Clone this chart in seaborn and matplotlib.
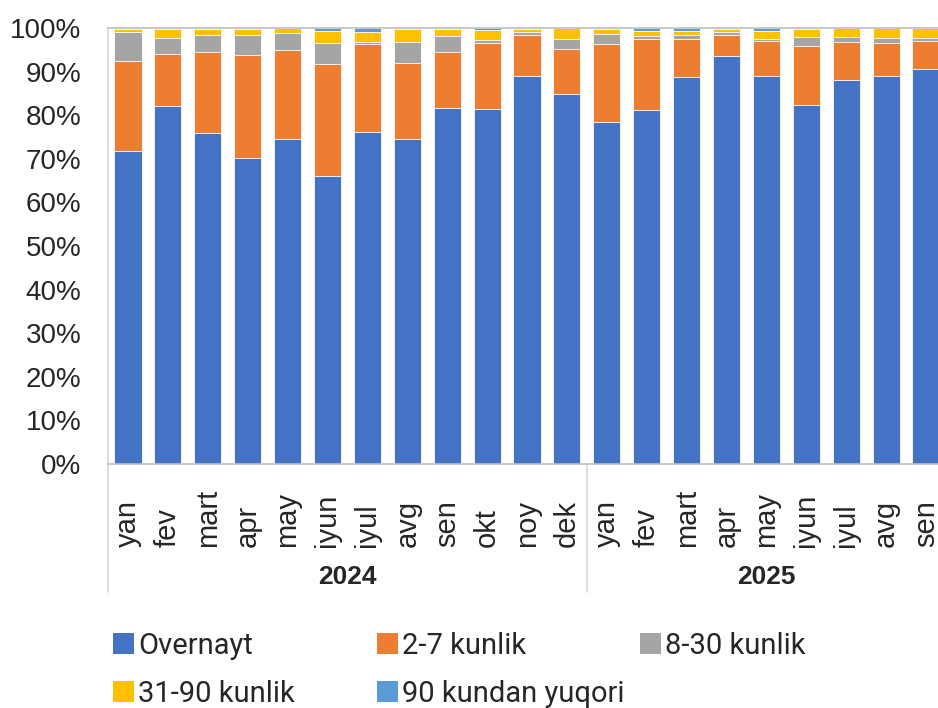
import numpy as np
import pandas as pd
import matplotlib
matplotlib.use("Agg")
import matplotlib.pyplot as plt
import matplotlib.transforms as mtransforms
from matplotlib.patches import Patch
import seaborn as sns

months = ["yan", "fev", "mart", "apr", "may", "iyun", "iyul", "avg", "sen", "okt", "noy", "dek",
          "yan", "fev", "mart", "apr", "may", "iyun", "iyul", "avg", "sen"]
years = ["2024", "2025"]
series = ["Overnayt", "2-7 kunlik", "8-30 kunlik", "31-90 kunlik", "90 kundan yuqori"]

overnayt = [71.9, 82.2, 76.0, 70.1, 74.5, 66.1, 76.2, 74.6, 81.7, 81.5, 89.1, 84.9,
            78.5, 81.3, 88.7, 93.6, 89.1, 82.3, 88.1, 89.1, 90.7]
d2_7 = [20.5, 11.8, 18.4, 23.6, 20.4, 25.6, 20.2, 17.3, 12.9, 15.1, 9.4, 10.2,
        17.9, 16.2, 8.8, 4.7, 8.0, 13.6, 8.8, 7.5, 6.4]
d8_30 = [6.6, 3.8, 3.9, 4.8, 4.0, 4.9, 0.4, 5.0, 3.6, 0.7, 0.6, 2.4,
         2.3, 0.7, 1.0, 0.8, 0.4, 2.0, 1.0, 1.0, 0.5]
d31_90 = [0.8, 1.9, 1.5, 1.3, 1.0, 2.8, 2.2, 2.9, 1.6, 2.3, 0.7, 2.4,
          1.1, 1.1, 0.8, 0.6, 1.9, 1.9, 2.1, 2.4, 2.4]
d90p = [0.2, 0.3, 0.2, 0.2, 0.1, 0.6, 1.0, 0.2, 0.2, 0.4, 0.2, 0.1,
        0.2, 0.7, 0.7, 0.3, 0.6, 0.2, 0.0, 0.0, 0.0]

colors = ["#4472C4", "#ED7D31", "#A5A5A5", "#FFC000", "#5B9BD5"]

df = pd.DataFrame({"idx": np.arange(len(months)), "Overnayt": overnayt, "2-7 kunlik": d2_7,
                   "8-30 kunlik": d8_30, "31-90 kunlik": d31_90, "90 kundan yuqori": d90p})
vals = df[series].to_numpy()
vals = vals / vals.sum(axis=1, keepdims=True)
cum = np.cumsum(vals, axis=1)

sns.set_theme(style="white")
plt.rcParams["font.family"] = ["Liberation Sans", "DejaVu Sans"]

fig = plt.figure(figsize=(9.38, 7.08), dpi=100)
ax = fig.add_axes([108 / 938, 1 - 464 / 708, (946 - 108) / 938, (464 - 28) / 708])

# draw from the top layer down so each stack shows through
for k in range(len(series) - 1, -1, -1):
    sns.barplot(x=df["idx"], y=cum[:, k], color=colors[k], width=0.68, ax=ax,
                edgecolor="white", linewidth=0.6, saturation=1)

ax.set_xlim(-0.5, len(months) - 0.5)
ax.set_ylim(0, 1)
ax.set_yticks(np.arange(0, 1.01, 0.1))
ax.set_yticklabels([f"{int(round(v * 100))}%" for v in np.arange(0, 1.01, 0.1)], fontsize=20)
ax.set_xticks(range(len(months)))
ax.set_xticklabels(months, rotation=90, fontsize=21, va="bottom")
ax.tick_params(axis="x", length=0, pad=60)
ax.tick_params(axis="y", length=0, pad=19)
ax.set_xlabel("")
ax.set_ylabel("")

for side in ["left", "bottom", "top"]:
    ax.spines[side].set_color("#BFBFBF")
    ax.spines[side].set_linewidth(1.2)
ax.spines["right"].set_visible(False)
ax.spines["left"].set_color("#D9D9D9")

trans = mtransforms.blended_transform_factory(ax.transData, ax.transAxes)
for xv in [-0.5, 11.5, len(months) - 0.5]:
    ax.plot([xv, xv], [0, -128 / 436], color="#D9D9D9", lw=1.2, transform=trans, clip_on=False)

for xc, yr in zip([5.5, 16.0], years):
    ax.text(xc, -113 / 436, yr, transform=trans, ha="center", va="center",
            fontsize=19, fontweight="bold", family=["Liberation Sans Narrow", "Liberation Sans"])

# legend laid out on a fixed grid like the original
pos = [(113, 646), (377, 646), (640, 646), (113, 694), (377, 694)]
for k, name in enumerate(series):
    h = Patch(facecolor=colors[k], edgecolor="none")
    x, y = pos[k]
    fig.legend(handles=[h], labels=[name], loc="center left",
               bbox_to_anchor=(x / 938, 1 - y / 708), frameon=False,
               handlelength=0.72, handleheight=0.72, handletextpad=0.15,
               borderpad=0, borderaxespad=0,
               prop={"family": "Roboto", "size": 21})

fig.savefig("out.png", dpi=100)
